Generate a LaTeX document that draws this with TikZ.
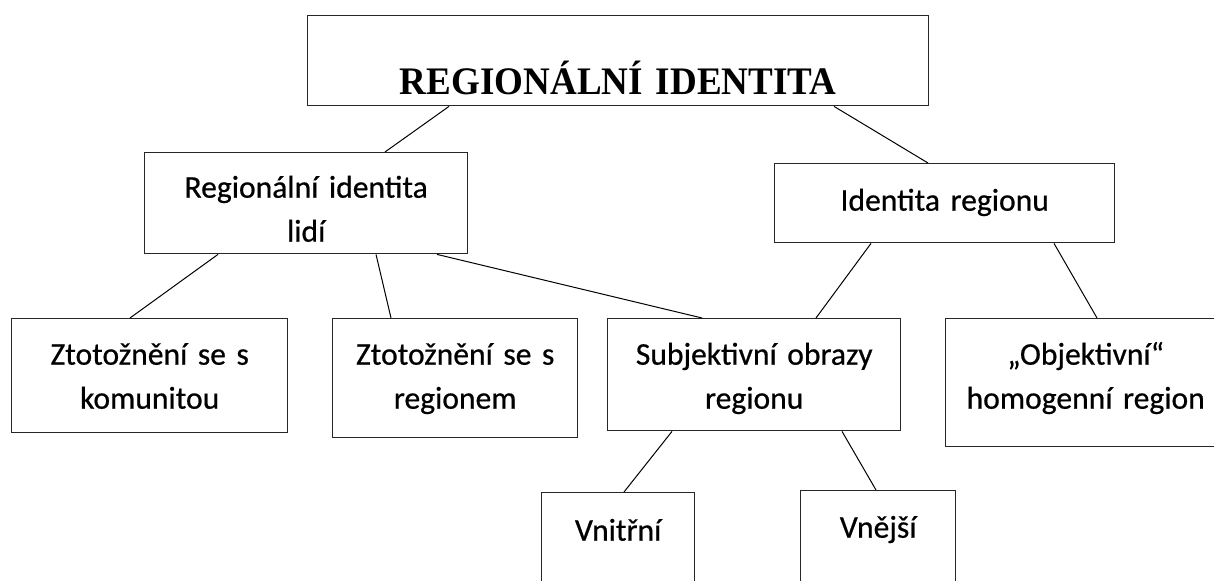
\documentclass[tikz,border=0pt]{standalone}
\usepackage{fontspec}
\setmainfont{Carlito}[FakeBold=0.6]
\newfontfamily\titlefont{Liberation Serif}[FakeStretch=0.95]
\tikzset{
  tbox/.style={draw=black!85, line width=0.7pt, inner sep=0pt, anchor=north west,
    align=center, font=\fontsize{15.8}{22}\selectfont},
  link/.style={draw=black, line width=0.5pt}
}
\begin{document}
\begin{tikzpicture}[x=0.5pt, y=-0.5pt]
\useasboundingbox (0,0) rectangle (1214,581);
\clip (0,0) rectangle (1214,581);
% boxes
\node[tbox, text width=310.5pt, text height=39.5pt, text depth=5.5pt,
      font=\titlefont\bfseries\fontsize{19.5}{22}\selectfont] (top) at (307,15) {REGIONÁLNÍ IDENTITA};
\node[tbox, text width=161.5pt, text height=22.5pt, text depth=28pt] (ril) at (144,152) {Regionální identita\\lidí};
\node[tbox, text width=170pt, text height=23.5pt, text depth=16pt] (ir) at (774,163) {Identita regionu};
\node[tbox, text width=138pt, text height=23pt, text depth=34pt] (zk) at (11,318) {Ztotožnění se s\\komunitou};
\node[tbox, text width=122.5pt, text height=23pt, text depth=36.5pt] (zr) at (332,318) {Ztotožnění se s\\regionem};
\node[tbox, text width=146.5pt, text height=23pt, text depth=33pt] (sub) at (607,318) {Subjektivní obrazy\\regionu};
\node[tbox, align=left, text width=180pt, text height=23pt, text depth=41pt] (obj) at (945,318)
  {\parbox[t]{140pt}{\centering „Objektivní“\\homogenní region}};
\node[tbox, text width=76.5pt, text height=24pt, text depth=30pt] (vni) at (541,492) {Vnitřní};
\node[tbox, text width=77.5pt, text height=23.5pt, text depth=31.5pt] (vne) at (800,490) {Vnější};
% connectors
\draw[link] ([xshift=71pt]top.south west) -- ([xshift=120.5pt]ril.north west);
\draw[link] ([xshift=263.5pt]top.south west) -- ([xshift=77pt]ir.north west);
\draw[link] ([xshift=37pt]ril.south west) -- ([xshift=59.5pt]zk.north west);
\draw[link] ([xshift=116pt]ril.south west) -- ([xshift=29.5pt]zr.north west);
\draw[link] ([xshift=146.5pt]ril.south west) -- ([xshift=47.5pt]sub.north west);
\draw[link] ([xshift=48.5pt]ir.south west) -- ([xshift=104.5pt]sub.north west);
\draw[link] ([xshift=140pt]ir.south west) -- ([xshift=76pt]obj.north west);
\draw[link] ([xshift=32.5pt]sub.south west) -- ([xshift=41.5pt]vni.north west);
\draw[link] ([xshift=117.5pt]sub.south west) -- ([xshift=38pt]vne.north west);
\end{tikzpicture}
\end{document}
